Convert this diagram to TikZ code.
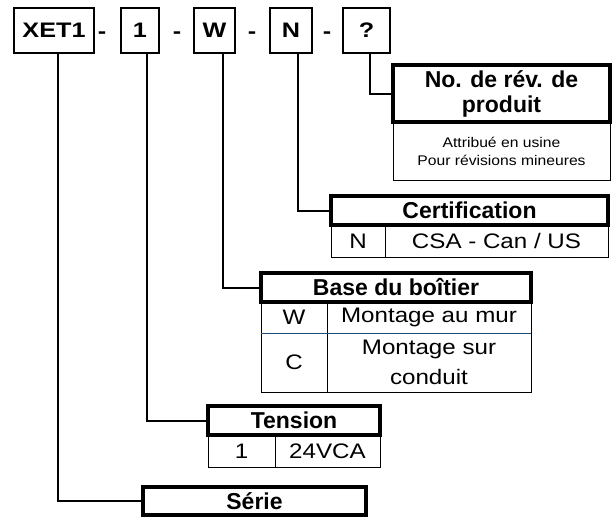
\documentclass[tikz,border=0pt]{standalone}
\usepackage{fontspec}
\setmainfont{Liberation Sans}
\newfontfamily\codefont[FakeStretch=1.2]{Liberation Sans}
\newfontfamily\cellfont[FakeStretch=1.15]{Liberation Sans}
\newfontfamily\notefont[FakeStretch=1.12]{Liberation Sans}
\definecolor{rowblue}{RGB}{31,78,121}

\begin{document}
\begin{tikzpicture}[x=1pt, y=-1pt,
  codebox/.style={draw, line width=2pt, inner sep=0pt, outer sep=0pt,
    minimum height=45pt, font=\codefont\bfseries\fontsize{21}{25}\selectfont},
  hyph/.style={anchor=base, inner sep=0pt,
    font=\codefont\bfseries\fontsize{21}{25}\selectfont},
  headbox/.style={draw, line width=3.5pt, inner sep=0pt, outer sep=0pt,
    align=center, font=\bfseries\fontsize{23}{25}\selectfont},
  cellbox/.style={draw, line width=0.8pt, inner sep=0pt, outer sep=0pt,
    align=center, font=\cellfont\fontsize{21}{30}\selectfont},
  notebox/.style={cellbox, font=\notefont\fontsize{14}{18}\selectfont},
  lead/.style={line width=2pt},
  divider/.style={line width=0.8pt, draw=rowblue}]

  \useasboundingbox (0,0) rectangle (615,517);

  % Model code
  \node[codebox, minimum width=80pt] (xet)    at (54,30.5)    {XET1};
  \node[codebox, minimum width=38pt] (volt)   at (140,30.5)   {1};
  \node[codebox, minimum width=41pt] (mount)  at (214.5,30.5) {W};
  \node[codebox, minimum width=42pt] (approv) at (291,30.5)   {N};
  \node[codebox, minimum width=47pt] (rev)    at (366.5,30.5) {?};

  \node[hyph] (h1) at (102,38) {-};
  \node[hyph] (h2) at (177,38) {-};
  \node[hyph] (h3) at (252,38) {-};
  \node[hyph] (h4) at (327,38) {-};

  % Product revision
  \node[notebox, minimum width=217pt, minimum height=58pt] (revNote)
    at (501.5,151) {Attribué en usine\\Pour révisions mineures};
  \node[headbox, minimum width=217pt, minimum height=57pt] (revHead)
    at (501.5,93.5) {No. de rév. de\\produit};

  % Certification
  \node[cellbox, minimum width=54pt, minimum height=32pt]  (certKey) at (358,241)   {N};
  \node[cellbox, minimum width=223pt, minimum height=32pt] (certVal) at (496.5,241) {CSA - Can / US};
  \node[headbox, minimum width=277pt, minimum height=29pt] (certHead)
    at (469.5,210.5) {Certification};

  % Base
  \node[cellbox, minimum width=66pt, minimum height=31pt]  (baseKeyW) at (294,317.5) {W};
  \node[cellbox, minimum width=204pt, minimum height=31pt] (baseValW) at (429,317.5) {Montage au mur};
  \node[cellbox, minimum width=66pt, minimum height=59pt]  (baseKeyC) at (294,362.5) {C};
  \node[cellbox, minimum width=204pt, minimum height=59pt] (baseValC) at (429,362.5) {Montage sur\\conduit};
  \draw[divider] (baseKeyW.south west) -- (baseValW.south east);
  \node[headbox, minimum width=270pt, minimum height=29pt] (baseHead)
    at (396,287.5) {Base du boîtier};

  % Voltage
  \node[cellbox, minimum width=67pt, minimum height=32pt]  (tensKey) at (241.5,451) {1};
  \node[cellbox, minimum width=105pt, minimum height=32pt] (tensVal) at (327.5,451) {24VCA};
  \node[headbox, minimum width=172pt, minimum height=29pt] (tensHead)
    at (294,420.5) {Tension};

  % Series
  \node[headbox, minimum width=223pt, minimum height=28pt] (serieHead)
    at (254.5,501) {Série};

  % Leads
  \draw[lead] ([xshift=3.5pt]rev.south)  |- (revHead.west);
  \draw[lead] ([xshift=7pt]approv.south) |- (certHead.west);
  \draw[lead] ([xshift=8.5pt]mount.south) |- (baseHead.west);
  \draw[lead] ([xshift=7pt]volt.south)   |- (tensHead.west);
  \draw[lead] ([xshift=4pt]xet.south)    |- (serieHead.west);

\end{tikzpicture}
\end{document}
